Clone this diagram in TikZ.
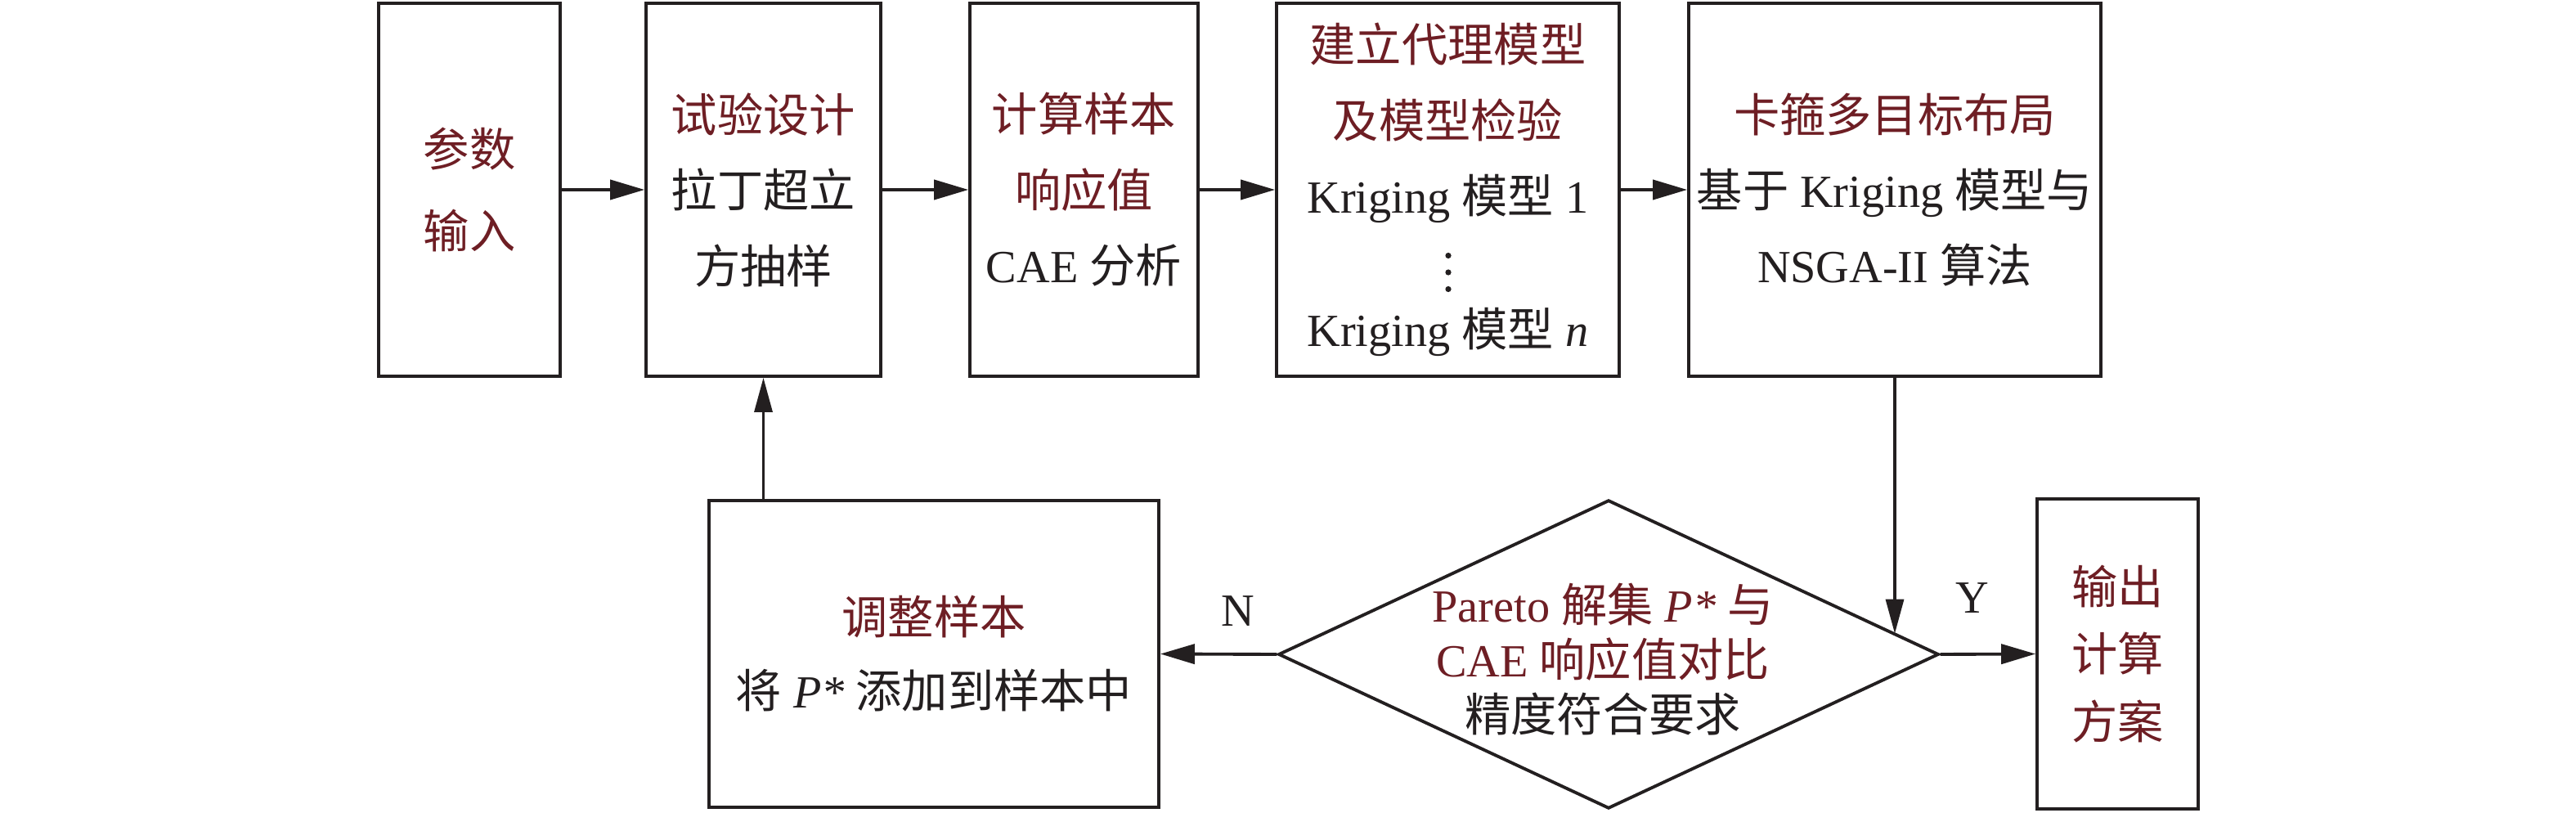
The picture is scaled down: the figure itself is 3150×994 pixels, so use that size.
\documentclass[tikz,border=0pt]{standalone}
\usepackage{fontspec}
\setmainfont{Liberation Serif}
\newfontfamily\cjk{Noto Sans CJK SC}
\usetikzlibrary{arrows.meta,shapes.geometric,calc}
\definecolor{tred}{RGB}{110,30,36}
\definecolor{ink}{RGB}{35,31,32}
\newcommand\zh[1]{{\cjk #1}}
\newcommand\rz[1]{\textcolor{tred}{\cjk #1}}
\tikzset{
  box/.style={draw=ink, line width=1pt, rectangle, inner sep=0pt, align=center, text=ink},
  harr/.style={draw=ink, line width=1.1pt, -{Triangle[length=0.42cm,width=0.24cm]}},
  varr/.style={draw=ink, line width=0.9pt, -{Triangle[length=0.42cm,width=0.22cm]}},
  lbl/.style={text=ink, inner sep=0pt, font=\fontsize{16}{19}\selectfont},
  vdot/.style={fill=ink},
}
\begin{document}
\begin{tikzpicture}[x=0.01cm, y=-0.01cm]
\fill[white] (0,0) rectangle (3150,994);
\useasboundingbox (0,0) rectangle (3150,994);

\node[box, minimum width=2.22cm, minimum height=4.56cm, font=\fontsize{16}{28.5}\selectfont] (b1) at (574,232)
  {\rz{参数}\\\rz{输入}};
\node[box, minimum width=2.87cm, minimum height=4.56cm, font=\fontsize{16}{26.3}\selectfont] (b2) at (933.5,232)
  {\rz{试验设计}\\\zh{拉丁超立}\\\zh{方抽样}};
\node[box, minimum width=2.79cm, minimum height=4.56cm, font=\fontsize{16}{26.3}\selectfont] (b3) at (1325.5,232)
  {\rz{计算样本}\\\rz{响应值}\\CAE \zh{分析}};
\node[box, minimum width=4.19cm, minimum height=4.56cm, font=\fontsize{16}{26.3}\selectfont] (b4) at (1770.5,232)
  {\rz{建立代理模型}\\\rz{及模型检验}\\Kriging \zh{模型} 1\\[20.1pt]Kriging \zh{模型} \textit{n}};
\node[box, minimum width=5.04cm, minimum height=4.56cm, font=\fontsize{16}{26.3}\selectfont] (b5) at (2317,232)
  {\rz{卡箍多目标布局}\\\zh{基于} Kriging \zh{模型与}\\NSGA-II \zh{算法}};
\node[box, minimum width=5.50cm, minimum height=3.75cm, font=\fontsize{16}{25.6}\selectfont] (b6) at (1142,799.5)
  {\rz{调整样本}\\\zh{将} \textit{P*} \zh{添加到样本中}};
\node[draw=ink, line width=1.1pt, diamond, shape aspect=2.14, inner sep=0pt, minimum width=8.07cm, minimum height=3.77cm] (d) at (1967,800) {};
\node[text=ink, inner sep=0pt, align=center, font=\fontsize{16}{19}\selectfont] (dt) at (1960,806)
  {{\color{tred}Pareto \zh{解集} \textit{P*} \zh{与}}\\{\color{tred}CAE \zh{响应值对比}}\\\zh{精度符合要求}};
\node[box, minimum width=1.97cm, minimum height=3.79cm, font=\fontsize{16}{23.5}\selectfont] (b7) at (2589.5,799.5)
  {\rz{输出}\\\rz{计算}\\\rz{方案}};
\coordinate (dhit) at ($(d.north)!0.867!(d.east)$);

% vertical ellipsis in b4
\coordinate (vd) at ($(b4.center)+(0.5,101)$);
\fill[vdot] ($(vd)+(0,-20.5)$) circle (3.6);
\fill[vdot] (vd) circle (3.6);
\fill[vdot] ($(vd)+(0,20.5)$) circle (3.6);

\draw[harr] (b1.east) -- (b2.west);
\draw[harr] (b2.east) -- (b3.west);
\draw[harr] (b3.east) -- (b4.west);
\draw[harr] (b4.east) -- (b5.west);
\draw[harr] (d.west) -- (b6.east);
\draw[harr] (d.east) -- (b7.west);
\draw[varr] (b2.south |- b6.north) -- (b2.south);
\draw[varr] (b5.south) -- (b5.south |- dhit);

\node[lbl] (lN) at (1514,747) {N};
\node[lbl] (lY) at (2412,731) {Y};
\end{tikzpicture}
\end{document}
